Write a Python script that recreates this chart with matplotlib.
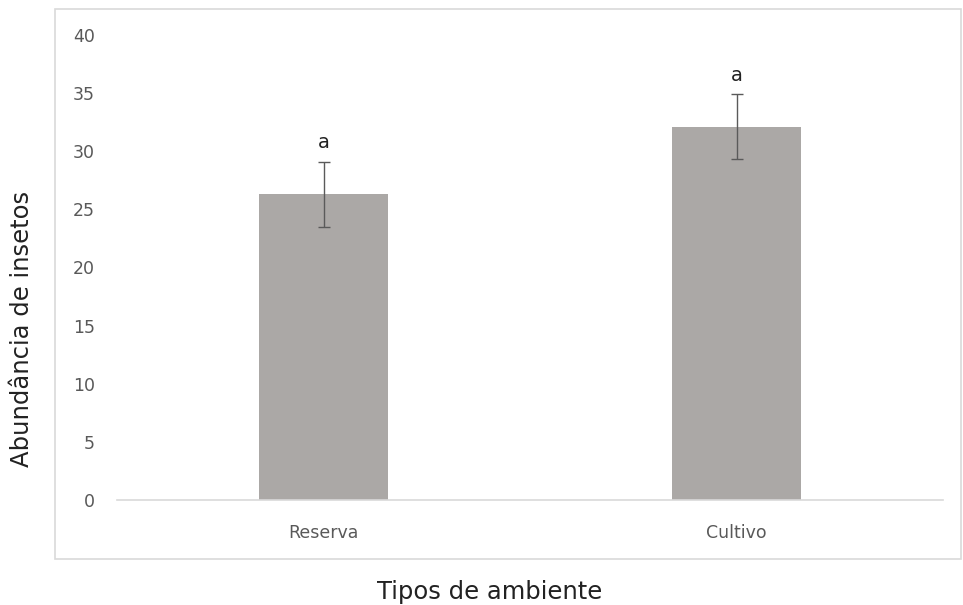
import numpy as np
import matplotlib.pyplot as plt
from matplotlib.patches import Rectangle

# data
categories = ["Reserva", "Cultivo"]
abundance = [26.3, 32.1]
errors = [2.8, 2.8]
letters = ["a", "a"]
y_ticks = [0, 5, 10, 15, 20, 25, 30, 35, 40]

W, H = 963, 605
fig = plt.figure(figsize=(W / 100, H / 100), dpi=100)
fig.patch.set_facecolor("white")

# outer chart border (Excel-style chart area)
fig.patches.append(Rectangle((55 / W, 1 - 559 / H), (961 - 55) / W, (559 - 9) / H,
                             transform=fig.transFigure, fill=False,
                             edgecolor="#D9D9D9", linewidth=1.2))

ax = fig.add_axes([117 / W, 1 - 500 / H, (943 - 117) / W, (500 - 35) / H])
x = np.arange(len(categories))
ax.bar(x, abundance, width=0.31, color="#ABA8A6", zorder=2)
ax.errorbar(x, abundance, yerr=errors, fmt="none", ecolor="#5A5A5A",
            elinewidth=1.0, capsize=4, capthick=1.0, zorder=3)
for xi, v, e, t in zip(x, abundance, errors, letters):
    ax.text(xi, v + e + 0.8, t, ha="center", va="bottom", fontsize=14, color="#222222")

ax.set_xlim(-0.5, 1.5)
ax.set_ylim(0, 40)
ax.set_yticks(y_ticks)
ax.set_xticks(x)
ax.set_xticklabels(categories)
ax.tick_params(axis="y", length=0, pad=16, labelsize=12.5, labelcolor="#595959")
ax.tick_params(axis="x", length=0, pad=17, labelsize=12.5, labelcolor="#595959")
for s in ["top", "right", "left"]:
    ax.spines[s].set_visible(False)
ax.spines["bottom"].set_color("#D9D9D9")
ax.spines["bottom"].set_linewidth(1.2)

fig.text(22 / W, 1 - 329 / H, "Abundância de insetos", rotation=90,
         ha="center", va="center", fontsize=17.5, color="#222222")
fig.text(490 / W, 1 - 592 / H, "Tipos de ambiente", ha="center", va="center",
         fontsize=17.5, color="#222222")

fig.savefig("out.png", dpi=100, facecolor="white")
